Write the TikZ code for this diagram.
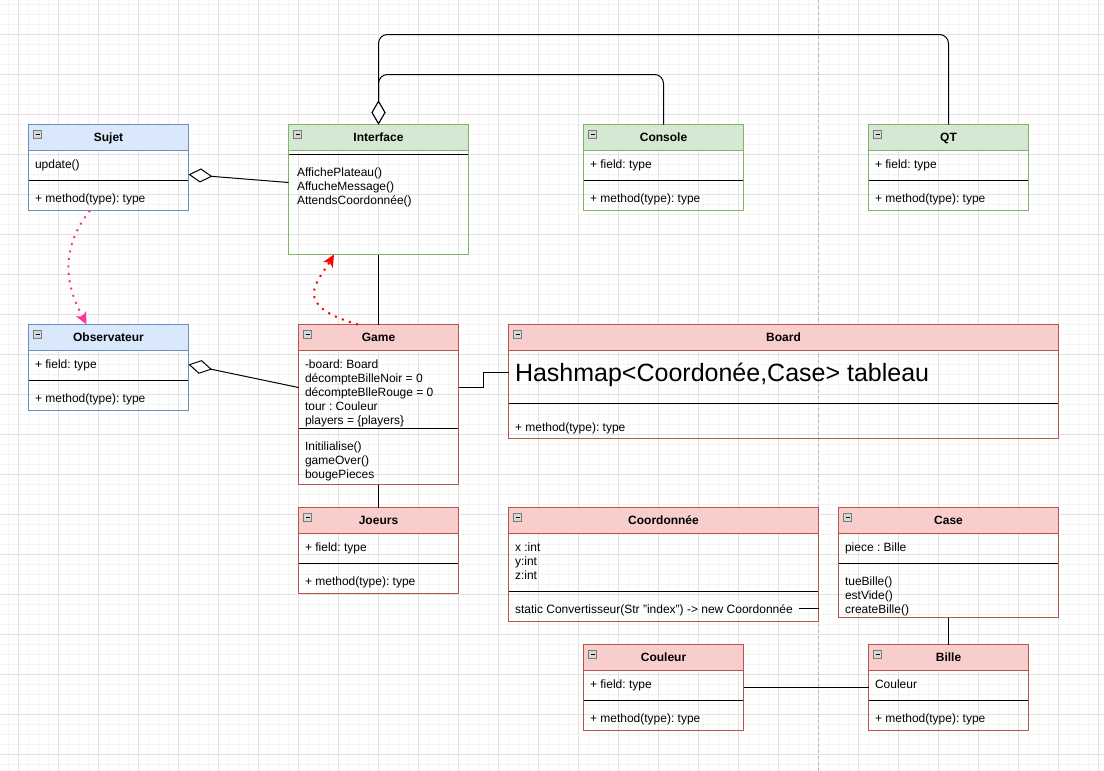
\documentclass[tikz,border=0pt]{standalone}
\usepackage{fontspec}
\setmainfont{Liberation Sans}
\usetikzlibrary{arrows.meta,calc}
\frenchspacing
\definecolor{blueF}{HTML}{DAE8FC}
\definecolor{blueS}{HTML}{6C8EBF}
\definecolor{greenF}{HTML}{D5E8D4}
\definecolor{greenS}{HTML}{82B366}
\definecolor{redF}{HTML}{F8CECC}
\definecolor{redS}{HTML}{B85450}
\definecolor{gridMaj}{HTML}{E2E2E2}
\definecolor{gridMin}{HTML}{F4F4F4}
\definecolor{pageLine}{HTML}{B4B4B4}
\definecolor{pinkArr}{HTML}{FF3399}
\definecolor{redArr}{HTML}{FF0000}
\definecolor{iconF}{HTML}{D8D8D8}
\definecolor{iconS}{HTML}{7A7A7A}
\tikzset{
  txt/.style={font=\frenchspacing\fontsize{12}{14}\selectfont, inner sep=0pt, anchor=base west, text=black},
  ttl/.style={font=\frenchspacing\bfseries\fontsize{12}{14}\selectfont, inner sep=0pt, anchor=base, text=black},
  bigtxt/.style={font=\frenchspacing\fontsize{25}{30}\selectfont, inner sep=0pt, anchor=base west, text=black},
  iconbox/.style={draw=iconS, fill=iconF, line width=0.8pt},
  agg/.style={draw=black, line width=1pt, -{Diamond[length=24pt,width=14pt,fill=white]}},
  assoc/.style={draw=black, line width=1pt},
  dotarrow/.style={line width=2pt, dash pattern=on 2pt off 5.5pt, -{Stealth[length=12pt,width=11pt,inset=3pt]}},
}
\newcommand\umlclass[8]{%
  \node[anchor=north west, minimum width=#4pt, minimum height=#5pt, inner sep=0pt, outer sep=0pt] (#1) at (#2,#3) {};
  \fill[#6F] (#1.north west) rectangle ([yshift=-26pt]#1.north east);
  \draw[#6S] ([yshift=-26pt]#1.north west) -- ([yshift=-26pt]#1.north east);
  \draw[black] ([yshift=-#7pt]#1.north west) -- ([yshift=-#7pt]#1.north east);
  \draw[#6S] (#1.north west) rectangle (#1.south east);
  \draw[iconbox] ([shift={(5pt,-6pt)}]#1.north west) rectangle ([shift={(13pt,-14pt)}]#1.north west);
  \draw[black, line width=1pt] ([shift={(7pt,-10pt)}]#1.north west) -- ([shift={(11pt,-10pt)}]#1.north west);
  \node[ttl] (#1-t) at ([yshift=-17.2pt]#1.north) {#8};
}
\newcommand\tline[4]{\node[txt] (#1) at (#2,#3) {#4};}
\begin{document}
\begin{tikzpicture}[x=1pt,y=-1pt,line width=1pt]
\useasboundingbox (0,0) rectangle (1104,771);
\fill[white] (0,0) rectangle (1104,771);
% grid
\foreach \i in {0,...,110} \draw[gridMin] ({8.5+10*\i},0) -- ({8.5+10*\i},771);
\foreach \j in {0,...,77} \draw[gridMin] (0,{4.5+10*\j}) -- (1104,{4.5+10*\j});
\foreach \i in {0,...,27} \draw[gridMaj] ({18.5+40*\i},0) -- ({18.5+40*\i},771);
\foreach \j in {0,...,18} \draw[gridMaj] (0,{34.5+40*\j}) -- (1104,{34.5+40*\j});
% page break line
\draw[pageLine, dash pattern=on 3pt off 3pt] (818.5,0) -- (818.5,771);

% classes
\umlclass{Sujet}{28.5}{124.5}{160}{86}{blue}{56}{Sujet}
\umlclass{Interface}{288.5}{124.5}{180}{130}{green}{30}{Interface}
\umlclass{Console}{583.5}{124.5}{160}{86}{green}{56}{Console}
\umlclass{QT}{868.5}{124.5}{160}{86}{green}{56}{QT}
\umlclass{Observateur}{28.5}{324.5}{160}{86}{blue}{56}{Observateur}
\umlclass{Game}{298.5}{324.5}{160}{160}{red}{104}{Game}
\umlclass{Board}{508.5}{324.5}{550}{114}{red}{79}{Board}
\umlclass{Joeurs}{298.5}{507.5}{160}{86}{red}{56}{Joeurs}
\umlclass{Coord}{508.5}{507.5}{310}{114}{red}{84}{Coordonnée}
\umlclass{Case}{838.5}{507.5}{220}{110}{red}{56}{Case}
\umlclass{Couleur}{583.5}{644.5}{160}{86}{red}{56}{Couleur}
\umlclass{Bille}{868.5}{644.5}{160}{86}{red}{56}{Bille}

% texts
\tline{Sujet-f}{34.5}{168.5}{update()}
\tline{Sujet-m}{34.5}{202.3}{+ method(type): type}
\tline{Interface-m1}{296.5}{176.2}{AffichePlateau()}
\tline{Interface-m2}{296.5}{190.2}{AffucheMessage()}
\tline{Interface-m3}{296.5}{204.2}{AttendsCoordonnée()}
\tline{Console-f}{589.5}{168.5}{+ field: type}
\tline{Console-m}{589.5}{202.3}{+ method(type): type}
\tline{QT-f}{874.5}{168.5}{+ field: type}
\tline{QT-m}{874.5}{202.3}{+ method(type): type}
\tline{Observateur-f}{34.5}{368.5}{+ field: type}
\tline{Observateur-m}{34.5}{402.3}{+ method(type): type}
\tline{Game-f1}{304.5}{368}{-board: Board}
\tline{Game-f2}{304.5}{382}{décompteBilleNoir = 0}
\tline{Game-f3}{304.5}{396}{décompteBlleRouge = 0}
\tline{Game-f4}{304.5}{410}{tour : Couleur}
\tline{Game-f5}{304.5}{424}{players = \{players\}}
\tline{Game-m1}{304.5}{450.2}{Initilialise()}
\tline{Game-m2}{304.5}{464.2}{gameOver()}
\tline{Game-m3}{304.5}{478.2}{bougePieces}
\node[bigtxt] (Board-f) at (514.5,381.5) {Hashmap<Coordonée,Case> tableau};
\tline{Board-m}{514.5}{431.2}{+ method(type): type}
\tline{Joeurs-f}{304.5}{551.5}{+ field: type}
\tline{Joeurs-m}{304.5}{585.3}{+ method(type): type}
\tline{Coord-f1}{514.5}{551.2}{x :int}
\tline{Coord-f2}{514.5}{565.2}{y:int}
\tline{Coord-f3}{514.5}{579.2}{z:int}
\tline{Coord-m}{514.5}{613.3}{static Convertisseur(Str "index") -> new Coordonnée}
\tline{Case-f}{844.5}{551.5}{piece : Bille}
\tline{Case-m1}{844.5}{585.2}{tueBille()}
\tline{Case-m2}{844.5}{599.2}{estVide()}
\tline{Case-m3}{844.5}{613.2}{createBille()}
\tline{Couleur-f}{589.5}{688.5}{+ field: type}
\tline{Couleur-m}{589.5}{722.3}{+ method(type): type}
\tline{Bille-f}{874.5}{688.5}{Couleur}
\tline{Bille-m}{874.5}{722.3}{+ method(type): type}

% connectors
\coordinate (k1) at (378.5,74.5);
\coordinate (k2) at (378.5,34.5);
\coordinate (gb) at (483.5,380);
\coordinate (cs) at (799,608.5);
\draw[agg, rounded corners=9pt] (QT.north) |- (k2) -- (Interface.north);
\draw[agg, rounded corners=9pt] (Console.north) |- (k1) -- (Interface.north);
\draw[agg] ([yshift=7pt]Interface.west) -- ([yshift=-7pt]Sujet.east);
\draw[agg] ([yshift=17pt]Game.west) -- ([yshift=3pt]Observateur.east);
\draw[assoc] (Interface.south) -- (Game.north);
\draw[assoc] (Game.south) -- (Joeurs.north);
\draw[assoc] ([yshift=17pt]Game.east) -| (gb) |- ([yshift=9pt]Board.west);
\draw[assoc] (Case.south) -- (Bille.north);
\draw[assoc] (Couleur.east) -- (Bille.west);
\draw[assoc] (cs) -- (cs -| Coord.east);
\draw[dotarrow, pinkArr] ([xshift=-18.5pt]Sujet.south) .. controls (52,258) and (74,300) .. ([xshift=-22pt]Observateur.north);
\draw[dotarrow, redArr] ([xshift=-20.5pt]Game.north) .. controls (290,305) and (318,282) .. ([xshift=-44.5pt]Interface.south);
\end{tikzpicture}
\end{document}
